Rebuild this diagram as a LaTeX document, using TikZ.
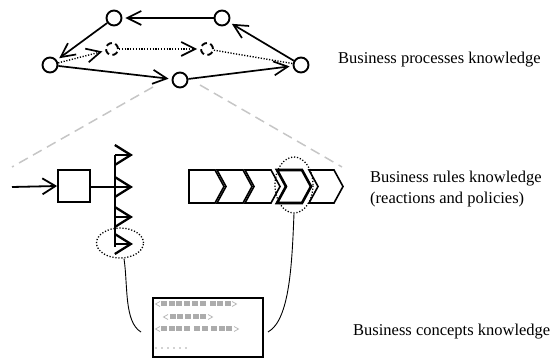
\documentclass[tikz,border=0pt]{standalone}
\usepackage{fontspec}
\setmainfont{Liberation Serif}
\usetikzlibrary{arrows.meta,shapes.geometric}
\begin{document}
\begin{tikzpicture}[x=1pt,y=-1pt,
  proc/.style={circle,draw,line width=1.9pt,minimum size=15pt,inner sep=0pt},
  dproc/.style={circle,draw,line width=1.9pt,minimum size=12pt,inner sep=0pt,dash pattern=on 6pt off 3.5pt},
  edge/.style={line width=1.7pt,-{Straight Barb[length=14pt,width=14pt]},shorten >=3pt},
  dedge/.style={line width=1.4pt,dash pattern=on 1.2pt off 1.6pt,-{Straight Barb[length=14pt,width=14pt,line width=1.7pt]},shorten >=3pt},
  guide/.style={gray!45,line width=1.5pt,dash pattern=on 10pt off 6pt},
  flag/.style={line width=2.3pt,-{Straight Barb[length=16pt,width=20pt]}},
  chev/.style={draw,line width=1.6pt,line join=miter},
  sel/.style={dash pattern=on 1.2pt off 1.8pt,line width=1.3pt},
  link/.style={line width=0.9pt},
  lbl/.style={anchor=base west,inner sep=0pt,font=\fontsize{16.5}{21}\selectfont},
  sq/.style={fill=gray!65},
  brk/.style={draw=gray!55,line width=0.8pt}
]
\useasboundingbox (0,0) rectangle (555,358);

% ---- business processes ----
\node[proc] (A) at (114,18) {};
\node[proc] (B) at (222,18) {};
\node[proc] (C) at (50,65) {};
\node[proc] (D) at (301,65) {};
\node[proc] (E) at (180,80) {};
\node[dproc] (F) at (112,49) {};
\node[dproc] (G) at (207,49) {};

\draw[edge] (B) -- (A);
\draw[edge] (A) -- (C);
\draw[edge] (D) -- (B);
\draw[edge] (C) -- (E);
\draw[edge] (E) -- (D);
\draw[dedge] (C) -- (F);
\draw[dedge] (F) -- (G);
\draw[line width=1.4pt,dash pattern=on 1.2pt off 1.6pt] (G) -- (D);

% ---- zoom guides ----
\coordinate (gl1) at (153,87); \coordinate (gl2) at (12,167);
\coordinate (gr1) at (200,85); \coordinate (gr2) at (342,167);
\draw[guide] (gl1) -- (gl2);
\draw[guide] (gr1) -- (gr2);

% ---- business rules: reaction ----
\coordinate (in) at (12,187);
\node[draw,line width=1.8pt,minimum width=32pt,minimum height=32pt,inner sep=0pt] (S) at (74,186) {};
\draw[line width=1.8pt,-{Straight Barb[length=13pt,width=16pt]}] (in) -- (S.west);
\coordinate (bt) at (115,155);
\coordinate (bb) at (115,247);
\draw[line width=2.4pt] (bt) -- (bb);
\draw[line width=2.6pt] (S.east |- 0,187) -- (115,187);
\coordinate (f1) at (133,155);
\coordinate (f2) at (133,187);
\coordinate (f3) at (133,217);
\coordinate (f4) at (133,244);
\draw[flag] (115,155) -- (f1);
\draw[flag] (115,187) -- (f2);
\draw[flag] (115,217) -- (f3);
\draw[flag] (115,244) -- (f4);
\node[sel,draw,ellipse,minimum width=47pt,minimum height=30pt,inner sep=0pt] (e1) at (120,243) {};

% ---- business rules: policies (chevrons) ----
\draw[chev] (189,170) -- (215,170) -- (224,186.5) -- (215,203) -- (189,203) -- cycle;
\draw[chev] (217,170) -- (243,170) -- (252,186.5) -- (243,203) -- (217,203) -- (226,186.5) -- cycle;
\draw[chev] (245,170) -- (271,170) -- (280,186.5) -- (271,203) -- (245,203) -- (254,186.5) -- cycle;
\draw[chev,line width=2.6pt] (277,170) -- (302,170) -- (311,186.5) -- (302,203) -- (277,203) -- (286,186.5) -- cycle;
\draw[chev] (309,170) -- (334,170) -- (343,186.5) -- (334,203) -- (309,203) -- (318,186.5) -- cycle;
\node[sel,draw,ellipse,minimum width=38pt,minimum height=56pt,inner sep=0pt] (e2) at (294,185) {};

% ---- business concepts ----
\node[draw,line width=2.3pt,minimum width=110pt,minimum height=59pt,inner sep=0pt] (K) at (208,327.5) {};
\coordinate (l1) at (141,332);
\coordinate (l2) at (268,332);
\draw[link] (e1.south) ++(4,0) .. controls (128,285) and (124,322) .. (l1);
\draw[link] (e2.south) .. controls (292,262) and (290,320) .. (l2);

% gray pseudo-text
\draw[brk] (160,301.5) -- (155.5,304) -- (160,306.5);
\foreach \x in {161,168.7,176.4,184.1,191.8,199.5,209.5,217.2,224.9}
  \fill[sq] (\x,301.5) rectangle ++(6,5);
\draw[brk] (232,301.5) -- (236.5,304) -- (232,306.5);

\draw[brk] (168,314.5) -- (163.5,317) -- (168,319.5);
\foreach \x in {169.5,177.2,184.9,192.6,200.3}
  \fill[sq] (\x,314.5) rectangle ++(6,5);
\draw[brk] (208,314.5) -- (212.5,317) -- (208,319.5);

\draw[brk] (160,326.5) -- (155.5,329) -- (160,331.5);
\foreach \x in {161,168.7,176.4,184.1,194,201.7,211,218.7,226.4}
  \fill[sq] (\x,326.5) rectangle ++(6,5);
\draw[brk] (234,326.5) -- (238.5,329) -- (234,331.5);

\foreach \x in {156,162,168,174,180,186}
  \fill[gray!70] (\x,348) circle (0.8);

% ---- labels ----
\node[lbl] (t1) at (338,64) {Business processes knowledge};
\node[lbl] (t2) at (370,183) {Business rules knowledge};
\node[lbl] (t3) at (370,203.5) {(reactions and policies)};
\node[lbl] (t4) at (353,336) {Business concepts knowledge};
\end{tikzpicture}
\end{document}
